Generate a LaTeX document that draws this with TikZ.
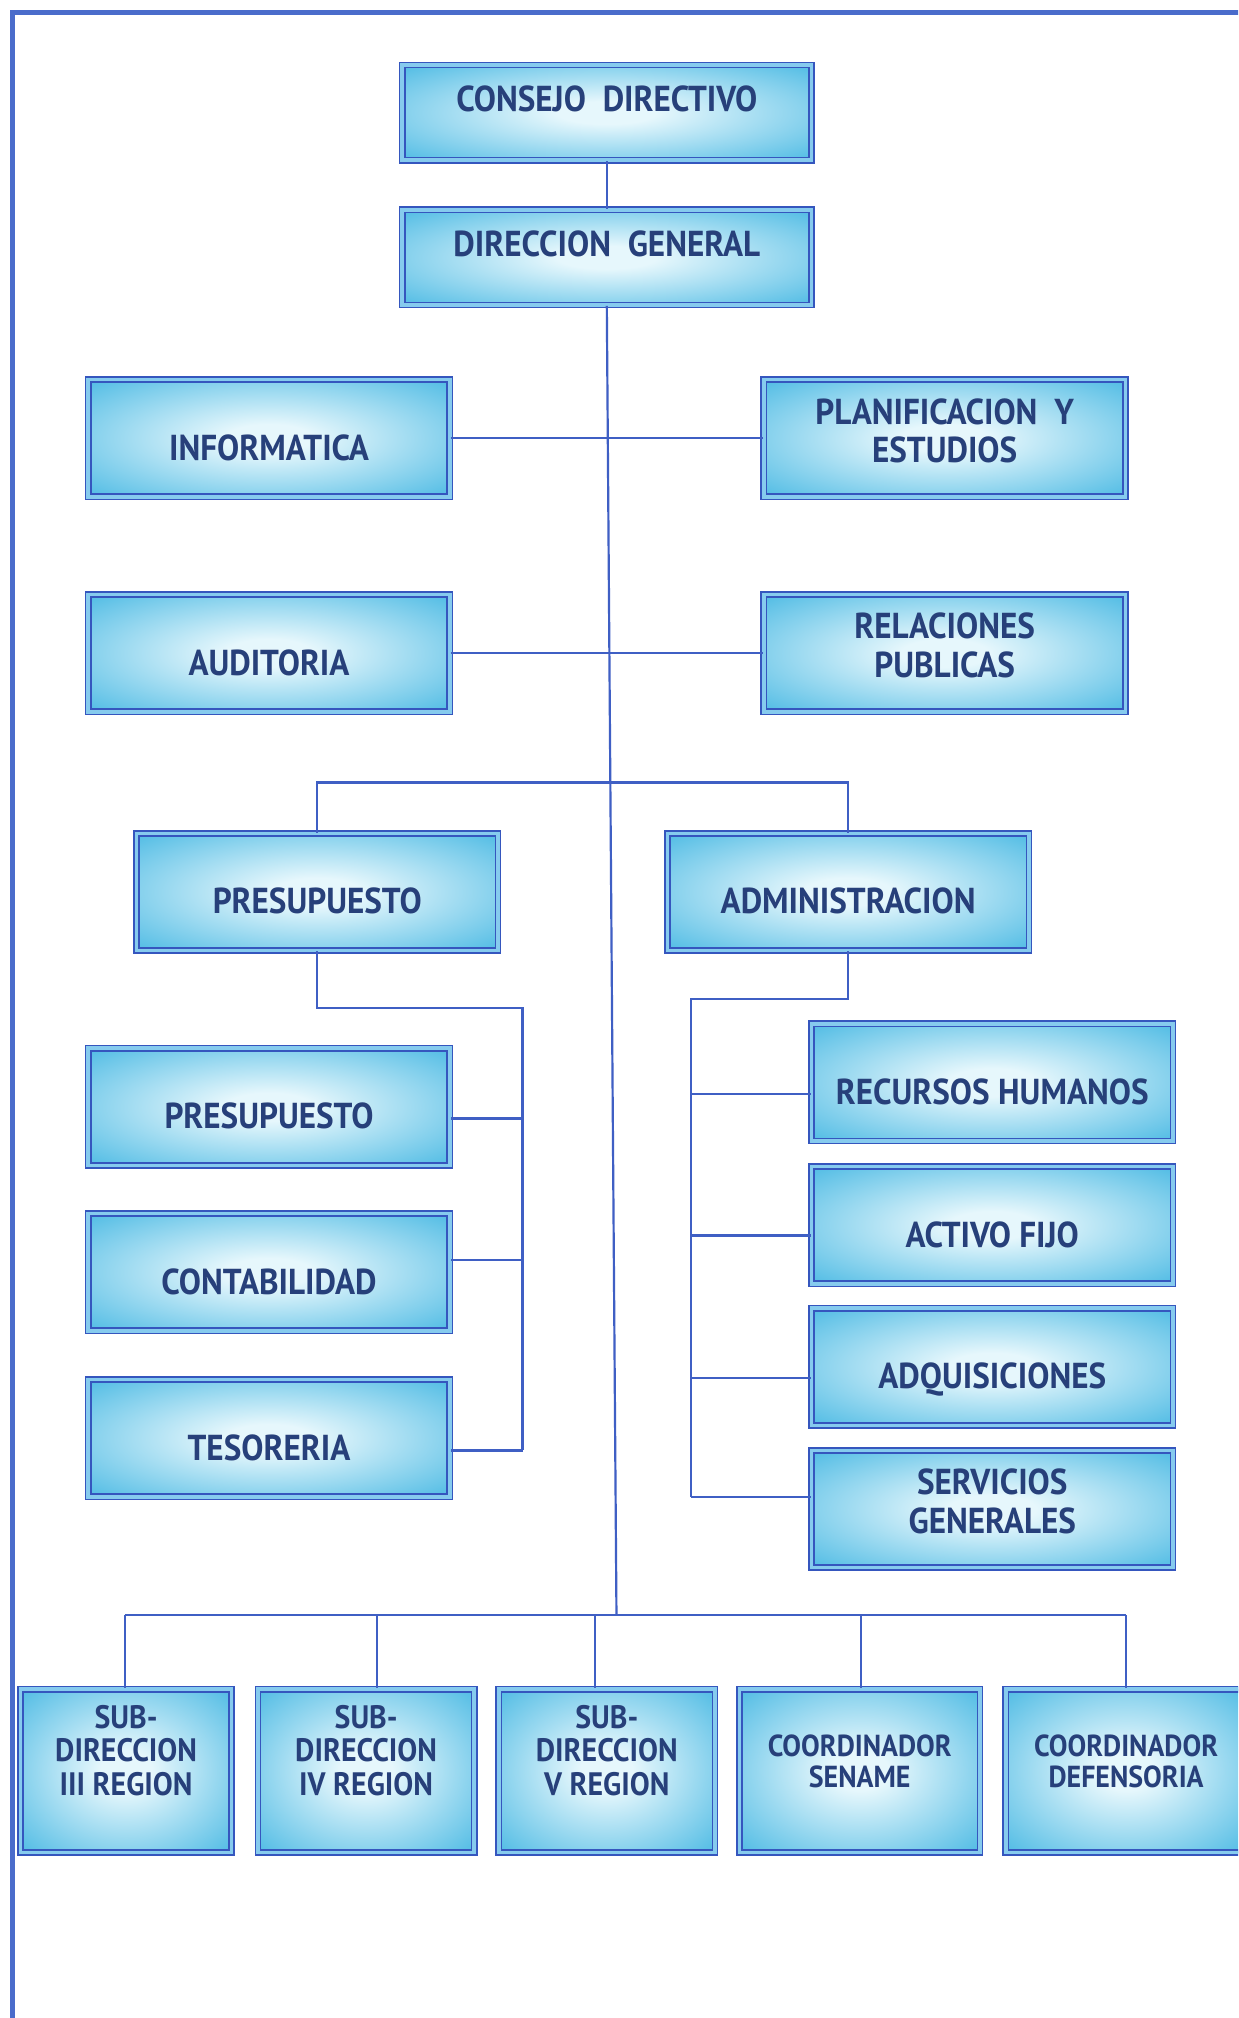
\documentclass[tikz,border=0pt]{standalone}
\usepackage{fontspec}
\setmainfont{PT Sans}[FakeStretch=0.92]
\usetikzlibrary{calc}
\definecolor{lin}{HTML}{3F5FC4}
\definecolor{frm}{HTML}{4A6CCB}
\definecolor{bord}{HTML}{3556BE}
\definecolor{band}{HTML}{86CBEE}
\definecolor{txt}{HTML}{27407A}
\definecolor{glowin}{HTML}{E6F7FC}
\definecolor{glowout}{HTML}{42B6E2}
\pgfdeclareradialshading{boxglow}{\pgfpoint{0bp}{0bp}}{color(0bp)=(glowin); color(6bp)=(glowin); color(38bp)=(glowout); color(50bp)=(glowout)}
\tikzset{
  box/.style={draw=bord, line width=0.6pt, double=band, double distance=1.4pt,
    shade, shading=boxglow, text=txt, align=center, inner sep=0pt,
    font=\fontsize{14}{15}\selectfont\bfseries},
  wide/.style={box, minimum width=140.5pt, minimum height=45.5pt},
  one/.style={text height=17pt, text depth=0pt},
  two/.style={text depth=6pt},
  topb/.style={box, minimum width=159pt, minimum height=37pt, text height=10pt, text depth=11pt},
  low/.style={box, minimum height=63.5pt, text depth=16pt, font=\fontsize{12.6}{13}\selectfont\bfseries},
  coord/.style={box, minimum height=63.5pt, minimum width=93.5pt, text depth=7.5pt, font=\fontsize{11.8}{12}\selectfont\bfseries},
  conn/.style={draw=lin, line width=0.85pt},
}
\begin{document}
\begin{tikzpicture}[x={(0.5pt,0)}, y={(0,-0.5pt)}]
\useasboundingbox (0,0) rectangle (962,1568);
\fill[white] (0,0) rectangle (962,1568);
\clip (0,0) rectangle (962,1568);
% frame
\draw[frm, line width=2pt] (10,1570) -- (10,10) -- (970,10);

% nodes
\node[topb] (cd) at (471.5,87.5) {CONSEJO\ \ DIRECTIVO};
\node[topb] (dg) at (471.5,200) {DIRECCION\ \ GENERAL};
\node[wide, one] (inf) at (209,340.5) {INFORMATICA};
\node[wide, two] (plan) at (734,340.5) {PLANIFICACION\ \ Y\\ESTUDIOS};
\node[wide, one] (aud) at (209,507.5) {AUDITORIA};
\node[wide, two] (rel) at (734,507.5) {RELACIONES\\PUBLICAS};
\node[wide, one] (pres) at (246.5,693) {PRESUPUESTO};
\node[wide, one] (adm) at (659,693) {ADMINISTRACION};
\node[wide, one] (p1) at (209,860) {PRESUPUESTO};
\node[wide, one] (p2) at (209,988.5) {CONTABILIDAD};
\node[wide, one] (p3) at (209,1117.5) {TESORERIA};
\node[wide, one] (r1) at (771,841) {RECURSOS HUMANOS};
\node[wide, one] (r2) at (771,952) {ACTIVO FIJO};
\node[wide, one] (r3) at (771,1062) {ADQUISICIONES};
\node[wide, two] (r4) at (771,1172.5) {SERVICIOS\\GENERALES};
\node[low, minimum width=82pt] (b1) at (98,1376) {SUB-\\DIRECCION\\III REGION};
\node[low, minimum width=84pt] (b2) at (284.5,1376) {SUB-\\DIRECCION\\IV REGION};
\node[low, minimum width=84pt] (b3) at (471.5,1376) {SUB-\\DIRECCION\\V REGION};
\node[coord] (b4) at (668,1376) {COORDINADOR\\SENAME};
\node[coord] (b5) at (875,1376) {COORDINADOR\\DEFENSORIA};

% connectors
\draw[conn] (cd.south) -- (dg.north);
\coordinate (mb) at (479,1255);
\draw[conn] (dg.south) -- (mb);
\draw[conn] (inf.east) -- (plan.west);
\draw[conn] (aud.east) -- (rel.west);
\coordinate (bar) at (247,608);
\draw[conn] (pres.north) -- (pres.north |- bar) -- (adm.north |- bar) -- (adm.north);
% presupuesto subtree
\coordinate (pk) at (406,783);
\coordinate (pe) at (406,1127);
\draw[conn] (pres.south) -- (pres.south |- pk) -- (pk) -- (pe);
\coordinate (pv1) at (406,869);
\coordinate (pv2) at (406,979);
\draw[conn] (pv1) -- (pv1 -| p1.east);
\draw[conn] (pv2) -- (pv2 -| p2.east);
\draw[conn] (pe) -- (pe -| p3.east);
% administracion subtree
\coordinate (ak) at (537,776);
\coordinate (ae) at (537,1163);
\draw[conn] (adm.south) -- (adm.south |- ak) -- (ak) -- (ae);
\coordinate (av1) at (537,850);
\coordinate (av2) at (537,960);
\coordinate (av3) at (537,1071);
\draw[conn] (av1) -- (av1 -| r1.west);
\draw[conn] (av2) -- (av2 -| r2.west);
\draw[conn] (av3) -- (av3 -| r3.west);
\draw[conn] (ae) -- (ae -| r4.west);
% bottom bar
\coordinate (bb1) at (97,1255);
\coordinate (bb5) at (875,1255);
\draw[conn] (bb1) -- (bb5);
\foreach \x/\n in {97/b1,293/b2,462/b3,669/b4,875/b5}{
  \coordinate (dd) at (\x,1255);
  \draw[conn] (dd) -- (dd |- \n.north);
}
\end{tikzpicture}
\end{document}
